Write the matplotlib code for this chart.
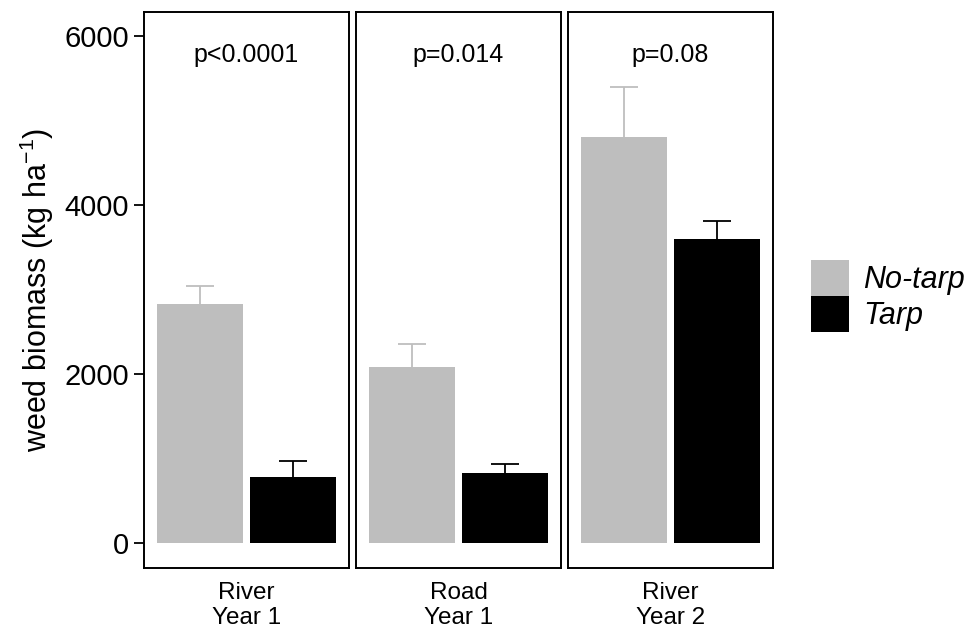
import numpy as np
import matplotlib.pyplot as plt
from matplotlib.patches import Patch

plt.rcParams['font.family'] = ['Liberation Sans', 'DejaVu Sans']
plt.rcParams['mathtext.fontset'] = 'custom'
plt.rcParams['mathtext.rm'] = 'Liberation Sans'
plt.rcParams['mathtext.it'] = 'Liberation Sans:italic'

# site / year groups (one panel each)
groups = ['River\nYear 1', 'Road\nYear 1', 'River\nYear 2']
p_labels = ['p<0.0001', 'p=0.014', 'p=0.08']
treatments = ['No-tarp', 'Tarp']
colors = ['#bebebe', '#000000']

# mean weed biomass (kg/ha) and upper error
notarp_mean = [2830, 2085, 4810]
notarp_se = [210, 275, 585]
tarp_mean = [785, 835, 3600]
tarp_se = [185, 100, 218]

means = np.array([notarp_mean, tarp_mean])
ses = np.array([notarp_se, tarp_se])

W, H = 968, 628
fig = plt.figure(figsize=(W / 100, H / 100), dpi=100)

left0 = 144
pw = 205
gap = 7
top = 12
bot = 568

offsets = [-0.272, 0.272]
bw = 0.505
cap = 0.08

axes = []
for i, g in enumerate(groups):
    x0 = left0 + i * (pw + gap)
    ax = fig.add_axes([x0 / W, 1 - bot / H, pw / W, (bot - top) / H])
    axes.append(ax)
    for j in range(2):
        xc = offsets[j]
        m = means[j, i]
        e = ses[j, i]
        ax.vlines(xc, m, m + e, color=colors[j], lw=1.3, zorder=1)
        ax.hlines(m + e, xc - cap, xc + cap, color=colors[j], lw=1.3, zorder=1)
        ax.bar(xc, m, width=bw, color=colors[j], zorder=2)
    ax.text(0, 5780, p_labels[i], ha='center', va='center', fontsize=18)
    ax.set_xlim(-0.6, 0.6)
    ax.set_ylim(-290, 6284)
    ax.set_xticks([0])
    ax.set_xticklabels([g], fontsize=17.5, linespacing=1.2)
    ax.tick_params(axis='x', length=0, pad=10)
    for s in ax.spines.values():
        s.set_linewidth(1.4)
        s.set_color('black')
    if i == 0:
        ax.set_yticks([0, 2000, 4000, 6000])
        ax.tick_params(axis='y', length=7, width=1.3, labelsize=21, pad=4)
        ax.set_ylabel(r'weed biomass (kg ha$^{-1}$)', fontsize=22, labelpad=6)
    else:
        ax.set_yticks([])

handles = [Patch(facecolor=c, edgecolor='none') for c in colors]
leg = fig.legend(handles, treatments, loc='center left',
                 bbox_to_anchor=(811 / W, 1 - 296 / H), frameon=False,
                 fontsize=22, handlelength=1.25, handleheight=1.44,
                 labelspacing=0, handletextpad=0.45, borderpad=0,
                 borderaxespad=0)
for t in leg.get_texts():
    t.set_fontstyle('italic')

fig.savefig('out.png', dpi=100)
